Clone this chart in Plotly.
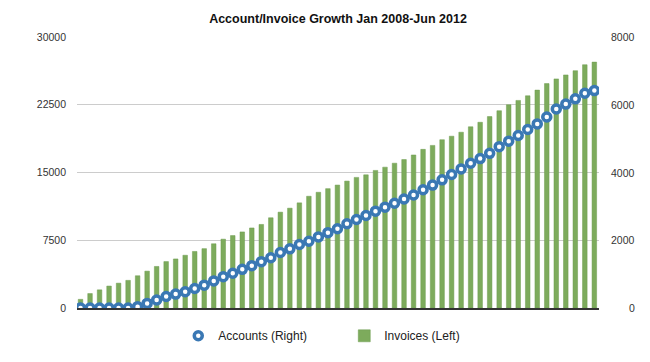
import plotly.graph_objects as go

months = list(range(1, 56))
invoices = [960, 1600, 2010, 2430, 2750, 3060, 3570, 4080, 4600, 5140,
            5430, 5840, 6260, 6570, 7110, 7620, 8020, 8420, 8860, 9250,
            9990, 10610, 11050, 11640, 12370, 12810, 13210, 13610, 14050, 14460,
            14740, 15230, 15590, 16030, 16430, 16940, 17560, 18000, 18630, 19020,
            19460, 20060, 20560, 21190, 21840, 22500, 22980, 23490, 24120, 24840,
            25360, 25800, 26270, 26930, 27220]
accounts = [0, 0, 0, 0, 0, 0, 40, 135, 235, 340,
            410, 480, 575, 675, 800, 925, 1025, 1141, 1250, 1367,
            1484, 1639, 1747, 1873, 1970, 2098, 2224, 2341, 2488, 2613,
            2730, 2859, 2976, 3093, 3219, 3336, 3491, 3629, 3784, 3942,
            4105, 4273, 4410, 4565, 4762, 4925, 5092, 5268, 5434, 5639,
            5873, 6019, 6174, 6341, 6418]
left_ticks = [0, 7500, 15000, 22500, 30000]
right_ticks = [0, 2000, 4000, 6000, 8000]

FONT = "Liberation Sans, Arial, sans-serif"
idx = list(range(len(months)))

fig = go.Figure()
fig.add_trace(go.Bar(
    x=idx, y=invoices, name="Invoices (Left)",
    marker=dict(color="#7dab5c", line=dict(color="#6f9c50", width=0.5)),
    yaxis="y",
))
fig.add_trace(go.Scatter(
    x=idx, y=accounts, name="Accounts (Right)", mode="markers",
    marker=dict(symbol="circle", size=8, color="white",
                line=dict(color="#3a78b4", width=3.5)),
    yaxis="y2",
))

annotations = []
for v in right_ticks:
    annotations.append(dict(
        x=1.0728, xref="paper", y=v, yref="y2", text=str(v),
        showarrow=False, xanchor="right", yanchor="middle",
        font=dict(family=FONT, size=10.5, color="#333333"),
    ))

fig.update_layout(
    width=650, height=362,
    margin=dict(l=77, r=51, t=37, b=52),
    paper_bgcolor="white", plot_bgcolor="white",
    bargap=0.52,
    showlegend=True,
    title=dict(text="<b>Account/Invoice Growth Jan 2008-Jun 2012</b>",
               x=0.5, xref="paper", xanchor="center",
               y=0.9475, yref="container", yanchor="middle",
               font=dict(family=FONT, size=12.5, color="#111111")),
    xaxis=dict(range=[-0.37, 54.49], showgrid=False, showticklabels=False,
               zeroline=False, showline=True, linecolor="#333333", linewidth=1.5,
               layer="below traces", fixedrange=True),
    yaxis=dict(range=[0, 30000], tickvals=left_ticks,
               ticktext=[str(v) for v in left_ticks],
               showgrid=True, gridcolor="#cccccc", gridwidth=1,
               zeroline=False, ticks="", ticklabelstandoff=10,
               tickfont=dict(family=FONT, size=10.5, color="#333333")),
    yaxis2=dict(range=[0, 8000], overlaying="y", side="right",
                tickvals=right_ticks, showticklabels=False, showgrid=False,
                zeroline=False, ticks=""),
    legend=dict(orientation="h", x=0.194, xref="paper", xanchor="left",
                y=-0.1026, yanchor="middle", traceorder="reversed",
                entrywidth=121, entrywidthmode="pixels",
                font=dict(family=FONT, size=12, color="#222222"),
                bgcolor="rgba(0,0,0,0)"),
    annotations=annotations,
)

fig.write_html("out.html", config={"displayModeBar": False},
               post_script="document.body.style.margin='0';document.body.style.padding='0';")
